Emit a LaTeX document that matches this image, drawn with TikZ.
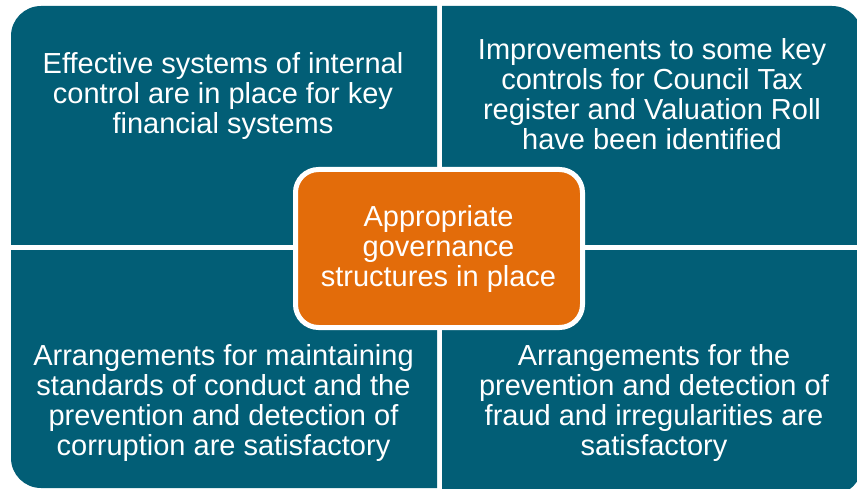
\documentclass[tikz,border=0pt]{standalone}
\usepackage{fontspec}
\setmainfont{Liberation Sans}
\definecolor{quadteal}{RGB}{2,94,118}
\definecolor{boxorange}{RGB}{227,108,10}
\begin{document}
\begin{tikzpicture}[x=1pt,y=-1pt,
  quad/.style={fill=quadteal, rounded corners=30pt},
  quadtext/.style={text=white, font=\fontsize{29}{30}\selectfont, align=center, inner sep=0pt, anchor=base},
  hub/.style={draw=white, line width=5pt, fill=boxorange, rounded corners=23pt,
    minimum width=287pt, minimum height=158pt, inner sep=0pt}]
\useasboundingbox (0,0) rectangle (857,489);
% quadrants
\begin{scope}
  \clip (11,6) rectangle (437,245);
  \fill[quad] (11,6) rectangle (500,300);
\end{scope}
\begin{scope}
  \clip (442,6) rectangle (862,245);
  \fill[quad] (380,6) rectangle (862,300);
\end{scope}
\begin{scope}
  \clip (11,251) rectangle (437,488);
  \fill[quad] (11,200) rectangle (500,488);
\end{scope}
\begin{scope}
  \clip (442,251) rectangle (862,495);
  \fill[quad] (380,200) rectangle (862,495);
\end{scope}
% texts (anchor = baseline of last line)
\node[quadtext] (tl) at (223,133.3) {Effective systems of internal\\control are in place for key\\financial systems};
\node[quadtext] (tr) at (652,149.3) {Improvements to some key\\controls for Council Tax\\register and Valuation Roll\\have been identified};
\node[quadtext] (bl) at (223.5,455) {Arrangements for maintaining\\standards of conduct and the\\prevention and detection of\\corruption are satisfactory};
\node[quadtext] (br) at (654,455) {Arrangements for the\\prevention and detection of\\fraud and irregularities are\\satisfactory};
% hub
\node[hub] (hub) at (439,248.5) {};
\node[quadtext] (hubtext) at (438.5,286.7) {Appropriate\\governance\\structures in place};
\end{tikzpicture}
\end{document}
